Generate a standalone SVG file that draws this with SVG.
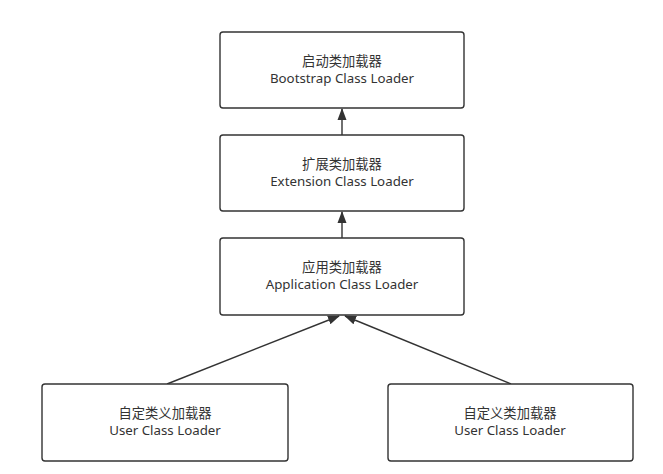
<svg xmlns="http://www.w3.org/2000/svg" width="663" height="474" viewBox="0 0 663 474">
<style>
.box{fill:#fff;stroke:#333;stroke-width:1.4}
.t{font-family:"Noto Sans","Noto Sans CJK SC",sans-serif;font-size:13.3px;fill:#333;text-anchor:middle}
.c{stroke:#333;stroke-width:1.4;fill:none}
</style>
<defs>
<marker id="ah" viewBox="0 0 12 10" refX="11" refY="5" markerWidth="12" markerHeight="10" markerUnits="userSpaceOnUse" orient="auto">
<path d="M0,0.5 L12,5 L0,9.5 z" fill="#333"/>
</marker>
</defs>
<rect width="663" height="474" fill="#fff"/>
<g id="connectors">
<line class="c" x1="342" y1="135" x2="342" y2="109" marker-end="url(#ah)"/>
<line class="c" x1="342" y1="238" x2="342" y2="212" marker-end="url(#ah)"/>
<line class="c" x1="167" y1="384" x2="339" y2="316" marker-end="url(#ah)"/>
<line class="c" x1="511" y1="384" x2="345" y2="316" marker-end="url(#ah)"/>
</g>
<g id="bootstrap">
<rect class="box" x="220" y="32" width="244" height="76" rx="3"/>
<text class="t" x="342" y="66">启动类加载器</text>
<text class="t" x="342" y="83">Bootstrap Class Loader</text>
</g>
<g id="extension">
<rect class="box" x="220" y="135" width="244" height="76" rx="3"/>
<text class="t" x="342" y="169">扩展类加载器</text>
<text class="t" x="342" y="186">Extension Class Loader</text>
</g>
<g id="application">
<rect class="box" x="220" y="238" width="244" height="77" rx="3"/>
<text class="t" x="342" y="272">应用类加载器</text>
<text class="t" x="342" y="289">Application Class Loader</text>
</g>
<g id="user1">
<rect class="box" x="42" y="384" width="246" height="77" rx="3"/>
<text class="t" x="165" y="418">自定类义加载器</text>
<text class="t" x="165" y="435">User Class Loader</text>
</g>
<g id="user2">
<rect class="box" x="388" y="384" width="245" height="77" rx="3"/>
<text class="t" x="510" y="418">自定义类加载器</text>
<text class="t" x="510" y="435">User Class Loader</text>
</g>
</svg>
